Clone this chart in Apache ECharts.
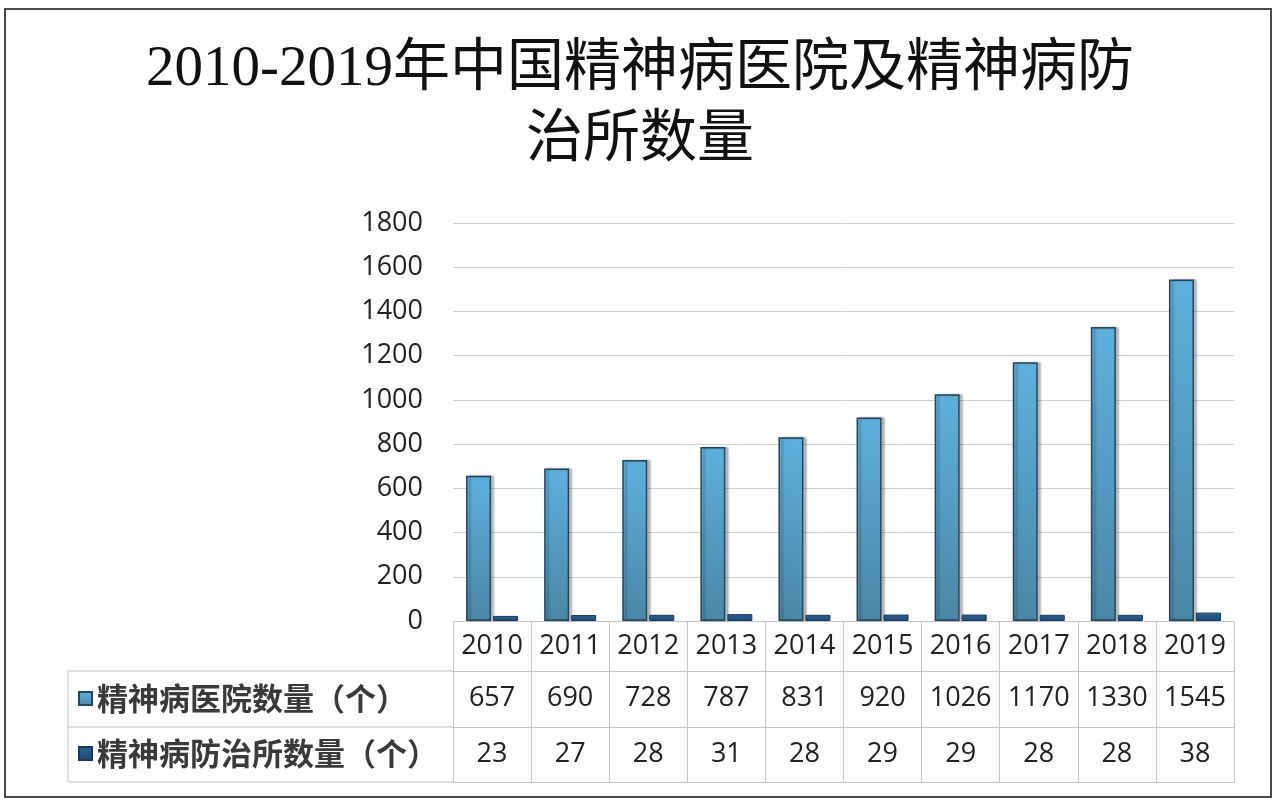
<!DOCTYPE html>
<html>
<head>
<meta charset="utf-8">
<script src="https://cdn.jsdelivr.net/npm/echarts@6/dist/echarts.min.js"></script>
<style>
html,body{margin:0;padding:0;background:#fff;}
#c{width:1280px;height:804px;}
</style>
</head>
<body>
<div id="c"></div>
<script>
const years = ['2010','2011','2012','2013','2014','2015','2016','2017','2018','2019'];
const hospitals = [657, 690, 728, 787, 831, 920, 1026, 1170, 1330, 1545];
const institutions = [23, 27, 28, 31, 28, 29, 29, 28, 28, 38];
const seriesNames = ['精神病医院数量（个）', '精神病防治所数量（个）'];
const titleText = '2010-2019年中国精神病医院及精神病防\n治所数量';

const chart = echarts.init(document.getElementById('c'));

// layout
const GL = 453, GR = 1234, GT = 223, GB = 621;
const ROW1 = 671, ROW2 = 727, ROW3 = 782;
const TL = 68;
const numFont = "'Open Sans', 'Noto Sans', sans-serif";
const lineColor = '#c4c4c4';

const hospColor = new echarts.graphic.LinearGradient(0, 0, 0, 1, [
  {offset: 0, color: '#5fb0de'}, {offset: 1, color: '#4a87a6'}
]);
const instColor = new echarts.graphic.LinearGradient(0, 0, 0, 1, [
  {offset: 0, color: '#2d6294'}, {offset: 1, color: '#1c4a73'}
]);

function labelAxis(offset, fmt, margin, showLabel) {
  return {
    type: 'category', data: years, gridIndex: 0, position: 'bottom', offset: offset,
    axisLine: {show: true, lineStyle: {color: lineColor, width: 1}},
    axisTick: {show: false},
    axisLabel: {show: showLabel, interval: 0, margin: margin, fontSize: 27, color: '#222',
      fontFamily: numFont, formatter: fmt},
    splitLine: {show: false}
  };
}

const option = {
  backgroundColor: '#fff',
  animation: false,
  title: {
    text: titleText, left: 'center', top: 35, padding: 0,
    textStyle: {fontSize: 57, lineHeight: 71, fontWeight: 'normal', color: '#111',
      fontFamily: "'Liberation Serif', 'Noto Sans CJK SC', serif"}
  },
  grid: {left: GL, right: 1280 - GR, top: GT, bottom: 804 - GB, containLabel: false},
  legend: [
    {data: [seriesNames[0]], left: 78, top: ROW1 + 12, itemWidth: 13, itemHeight: 13,
      icon: 'rect', selectedMode: false, padding: 0,
      textStyle: {fontSize: 31, color: '#3a3a3a', fontWeight: 'bold',
        fontFamily: "'Noto Sans CJK SC', sans-serif"}},
    {data: [seriesNames[1]], left: 78, top: ROW2 + 11, itemWidth: 13, itemHeight: 13,
      icon: 'rect', selectedMode: false, padding: 0,
      textStyle: {fontSize: 31, color: '#3a3a3a', fontWeight: 'bold',
        fontFamily: "'Noto Sans CJK SC', sans-serif"}}
  ],
  xAxis: [
    {
      type: 'category', data: years, gridIndex: 0, position: 'bottom',
      axisLine: {show: true, lineStyle: {color: lineColor, width: 1}},
      axisTick: {show: true, length: ROW3 - GB, lineStyle: {color: lineColor, width: 1}},
      axisLabel: {interval: 0, margin: 12, fontSize: 27, color: '#222', fontFamily: numFont},
      splitLine: {show: false}
    },
    labelAxis(ROW1 - GB, (v, i) => String(hospitals[i]), 14, true),
    labelAxis(ROW2 - GB, (v, i) => String(institutions[i]), 14, true),
    labelAxis(ROW3 - GB, null, 10, false)
  ],
  yAxis: {
    type: 'value', min: 0, max: 1800, interval: 200,
    axisLine: {show: false}, axisTick: {show: false},
    axisLabel: {margin: 30, fontSize: 27, color: '#222', fontFamily: numFont,
      formatter: v => String(v)},
    splitLine: {lineStyle: {color: '#cfcfcf', width: 1}}
  },
  series: [
    {name: seriesNames[0], type: 'bar', data: hospitals, xAxisIndex: 0,
      barWidth: 25, barGap: '8%',
      itemStyle: {color: hospColor, borderColor: '#24465c', borderWidth: 1.5,
        shadowColor: 'rgba(0,0,0,0.25)', shadowOffsetX: 3, shadowBlur: 2}},
    {name: seriesNames[1], type: 'bar', data: institutions, xAxisIndex: 0,
      barWidth: 25, barGap: '8%',
      itemStyle: {color: instColor, borderColor: '#163a5a', borderWidth: 1}}
  ],
  graphic: [
    {type: 'rect', silent: true, z: -10, shape: {x: 5, y: 9, width: 1266, height: 788},
      style: {fill: '#fdfdfd', stroke: '#4a4a4a', lineWidth: 2}},
    {type: 'line', silent: true, shape: {x1: TL, y1: ROW1, x2: GL, y2: ROW1}, style: {stroke: lineColor, lineWidth: 1}},
    {type: 'line', silent: true, shape: {x1: TL, y1: ROW2, x2: GL, y2: ROW2}, style: {stroke: lineColor, lineWidth: 1}},
    {type: 'line', silent: true, shape: {x1: TL, y1: ROW3, x2: GL, y2: ROW3}, style: {stroke: lineColor, lineWidth: 1}},
    {type: 'line', silent: true, shape: {x1: TL, y1: ROW1, x2: TL, y2: ROW3}, style: {stroke: lineColor, lineWidth: 1}}
  ]
};
chart.setOption(option);
</script>
</body>
</html>
